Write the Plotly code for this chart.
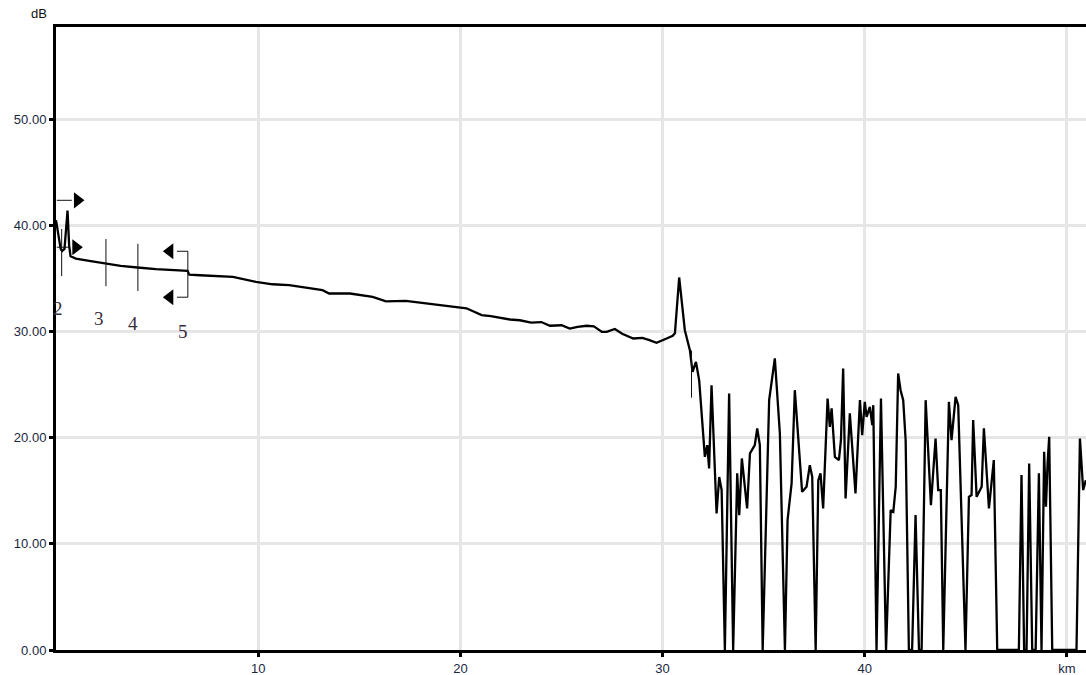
import plotly.graph_objects as go

# ---- trace data (distance in km, level in dB) ----
distance_km = [
    0.0, 0.12, 0.23, 0.3, 0.42, 0.57, 0.65, 0.72, 0.98, 1.64, 2.47, 3.2, 4.03, 4.94,
    6.51, 6.59, 7.12, 8.75, 9.89, 10.71, 11.53, 12.36, 13.18, 13.51, 14.54, 15.66,
    16.32, 17.3, 18.33, 19.48, 20.3, 21.05, 21.5, 22.45, 22.94, 23.5, 24.0, 24.43,
    25.0, 25.41, 25.8, 26.24, 26.6, 27.0, 27.23, 27.64, 28.0, 28.55, 29.0, 29.35,
    29.7, 30.2, 30.5, 30.61, 30.82, 31.1, 31.35, 31.48, 31.65, 31.81, 32.09, 32.21,
    32.3, 32.42, 32.67, 32.8, 32.92, 33.08, 33.29, 33.49, 33.69, 33.79, 33.92, 34.18,
    34.32, 34.56, 34.68, 34.81, 34.95, 35.27, 35.55, 35.8, 36.05, 36.18, 36.38, 36.54,
    36.9, 37.12, 37.28, 37.4, 37.57, 37.7, 37.81, 37.94, 38.16, 38.27, 38.36, 38.52,
    38.72, 38.82, 38.93, 39.05, 39.26, 39.54, 39.76, 39.87, 40.0, 40.09, 40.25, 40.37,
    40.42, 40.58, 40.8, 41.05, 41.28, 41.41, 41.53, 41.65, 41.77, 41.9, 42.02, 42.18,
    42.34, 42.51, 42.68, 42.81, 43.01, 43.27, 43.5, 43.63, 43.76, 43.88, 44.16, 44.29,
    44.49, 44.62, 44.98, 45.15, 45.28, 45.36, 45.53, 45.78, 45.89, 46.14, 46.38, 46.55,
    47.62, 47.75, 47.88, 48.0, 48.13, 48.28, 48.45, 48.61, 48.74, 48.87, 48.96, 49.04,
    49.12, 49.27, 50.47, 50.64, 50.8, 50.93,
]
level_db = [
    40.5, 39.0, 37.8, 37.6, 37.8, 41.4, 38.1, 37.1, 36.88, 36.66, 36.41, 36.2, 36.04, 35.88,
    35.72, 35.37, 35.31, 35.15, 34.68, 34.46, 34.37, 34.15, 33.9, 33.59, 33.59, 33.27,
    32.85, 32.9, 32.65, 32.4, 32.2, 31.55, 31.45, 31.14, 31.07, 30.85, 30.9, 30.55,
    30.6, 30.29, 30.45, 30.55, 30.5, 29.97, 29.97, 30.25, 29.8, 29.35, 29.4, 29.2,
    28.94, 29.35, 29.6, 29.85, 35.1, 30.13, 28.25, 26.2, 27.15, 25.4, 18.2, 19.3,
    17.1, 24.95, 12.87, 16.3, 15.07, 0.0, 24.17, 0.0, 16.64, 12.71, 18.05, 13.34,
    18.52, 19.3, 20.88, 19.3, 0.0, 23.54, 27.47, 20.4, 0.0, 12.24, 15.7, 24.48,
    14.9, 15.38, 17.42, 16.32, 0.0, 16.0, 16.64, 13.34, 23.7, 21.03, 22.76, 18.2,
    17.89, 19.77, 26.52, 14.28, 22.29, 14.76, 23.54, 20.24, 23.38, 21.97, 22.91, 21.19,
    23.07, 0.0, 23.7, 0.0, 13.18, 13.02, 15.38, 26.05, 24.48, 23.54, 19.77, 0.0,
    0.0, 12.71, 0.0, 0.0, 23.54, 13.65, 19.93, 15.07, 15.07, 0.0, 23.38, 19.77,
    23.85, 23.07, 0.0, 14.43, 14.6, 21.66, 14.43, 15.38, 20.88, 13.34, 17.89, 0.0,
    0.0, 16.48, 0.0, 0.0, 17.58, 0.0, 0.0, 16.64, 0.0, 18.67, 13.49, 17.58,
    20.08, 0.0, 0.0, 19.93, 15.07, 16.0,
]

# ---- events ----
event_km = [0.28, 2.47, 4.05, 31.43]
event_db = [37.45, 36.5, 36.05, 26.0]
event_labels = ["2", "3", "4", "5"]
event_label_km = [0.1, 2.12, 3.8, 6.28]
section_end_km = 6.52
section_start_km = 0.04

# ---- axes ----
x_ticks = [10, 20, 30, 40, 50]
x_ticktext = ["10", "20", "30", "40", "km"]
y_ticks = [0, 10, 20, 30, 40, 50]
x_range = [0, 50.94]
y_range = [0, 58.7]

fig = go.Figure()

fig.add_trace(go.Scatter(
    x=distance_km, y=level_db, mode="lines",
    line=dict(color="#000000", width=2.3), hoverinfo="skip", showlegend=False,
))

mark_color = "#111111"
half = 2.22  # half length of event markers, dB
shapes = []
for k, d in zip(event_km, event_db):
    shapes.append(dict(type="line", xref="x", yref="y", x0=k, x1=k,
                       y0=d - half, y1=d + half, line=dict(color=mark_color, width=1)))

# section end bracket (event 5)
top5, bot5 = 37.57, 33.24
shapes += [
    dict(type="line", xref="x", yref="y", x0=section_end_km, x1=section_end_km,
         y0=bot5, y1=top5, line=dict(color=mark_color, width=1)),
    dict(type="line", xref="x", yref="y", x0=section_end_km - 0.54, x1=section_end_km,
         y0=top5, y1=top5, line=dict(color=mark_color, width=1)),
    dict(type="line", xref="x", yref="y", x0=section_end_km - 0.54, x1=section_end_km,
         y0=bot5, y1=bot5, line=dict(color=mark_color, width=1)),
]
# section start bracket
top1, bot1 = 42.37, 37.95
shapes += [
    dict(type="line", xref="x", yref="y", x0=section_start_km, x1=section_start_km + 0.74,
         y0=top1, y1=top1, line=dict(color=mark_color, width=1)),
    dict(type="line", xref="x", yref="y", x0=section_start_km, x1=section_start_km + 0.6,
         y0=bot1, y1=bot1, line=dict(color=mark_color, width=1)),
]

fig.add_trace(go.Scatter(
    x=[section_start_km + 1.02, section_start_km + 0.94],
    y=[top1, bot1], mode="markers",
    marker=dict(symbol="triangle-right", size=14, color="#000000"),
    hoverinfo="skip", showlegend=False,
))
fig.add_trace(go.Scatter(
    x=[section_end_km - 0.89, section_end_km - 0.89],
    y=[top5, bot5], mode="markers",
    marker=dict(symbol="triangle-left", size=14, color="#000000"),
    hoverinfo="skip", showlegend=False,
))

label_db = [32.2, 31.26, 30.8, 30.04]
annotations = []
for lx, ly, t in zip(event_label_km, label_db, event_labels):
    annotations.append(dict(x=lx, y=ly, xref="x", yref="y", text=t, showarrow=False,
                            font=dict(family="Liberation Serif, Times New Roman, serif",
                                      size=19, color="#3a2b3a")))
annotations.append(dict(x=0, y=1, xref="paper", yref="paper", text="dB", showarrow=False,
                        xanchor="center", yanchor="middle", xshift=-17, yshift=14,
                        font=dict(family="Liberation Sans, Arial, sans-serif", size=13,
                                  color="#111111")))

tick_font = dict(family="Liberation Sans, Arial, sans-serif", size=13, color="#1a2740")

fig.update_layout(
    width=1086, height=675,
    margin=dict(l=56, r=0, t=27, b=25),
    paper_bgcolor="white", plot_bgcolor="white",
    shapes=shapes, annotations=annotations,
    showlegend=False,
    xaxis=dict(range=x_range, tickmode="array", tickvals=x_ticks, ticktext=x_ticktext,
               showgrid=True, gridcolor="#e6e6e6", gridwidth=3, zeroline=False,
               showline=True, linecolor="#000000", linewidth=3, mirror=True,
               ticks="outside", ticklen=4, tickwidth=3, tickcolor="#000000",
               tickfont=tick_font, automargin=False),
    yaxis=dict(range=y_range, tickmode="array", tickvals=y_ticks,
               tickformat=".2f", showgrid=True, gridcolor="#e6e6e6", gridwidth=3,
               zeroline=False, showline=True, linecolor="#000000", linewidth=3,
               mirror=False, ticks="outside", ticklen=4, tickwidth=3,
               tickcolor="#000000", tickfont=tick_font, automargin=False),
)

fig.write_html(
    "out.html",
    config={"displayModeBar": False},
    post_script="document.body.style.margin='0';document.body.style.padding='0';"
                "document.documentElement.style.overflow='hidden';",
)
